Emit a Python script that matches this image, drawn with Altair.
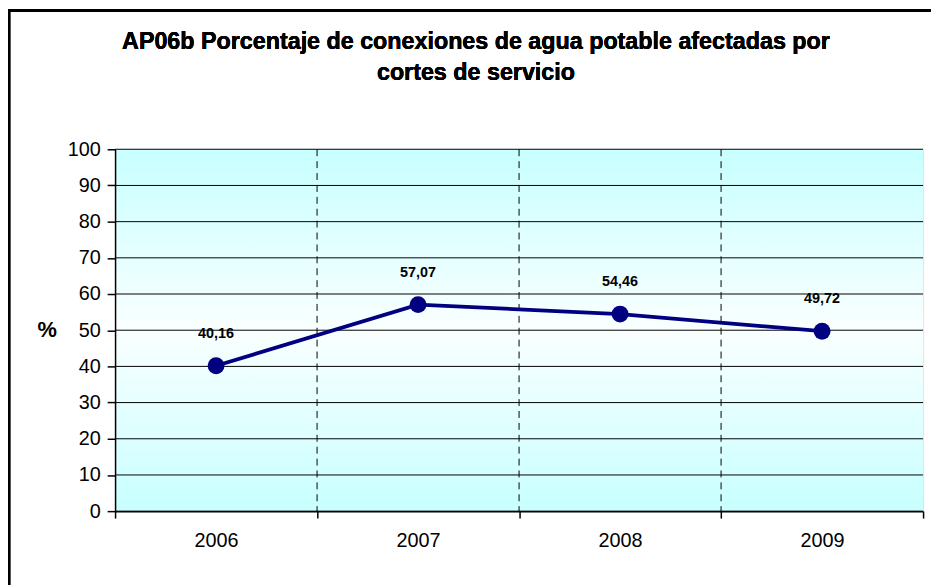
import altair as alt
import pandas as pd

years = ["2006", "2007", "2008", "2009"]
values = [40.16, 57.07, 54.46, 49.72]
labels = ["40,16", "57,07", "54,46", "49,72"]
y_ticks = [0, 10, 20, 30, 40, 50, 60, 70, 80, 90, 100]

title_line1 = "AP06b Porcentaje de conexiones de agua potable afectadas por"
title_line2 = "cortes de servicio"

W, H = 815, 365
FONT = "Liberation Sans"
NAVY = "#000080"

df = pd.DataFrame({"year": years, "value": values, "label": labels})
grid_df = pd.DataFrame({"tick": y_ticks})
xgrid_df = pd.DataFrame({"year": years[1:]})

xscale = alt.Scale(type="band", paddingInner=0, paddingOuter=0, domain=years)
yscale = alt.Scale(domain=[0, 100], nice=False, zero=True)

xaxis = alt.Axis(title=None, labelAngle=0, tickBand="extent", grid=False,
                 labelFontSize=20, labelFont=FONT, labelColor="#000000",
                 labelPadding=13, tickColor="#000000", tickSize=7, tickWidth=1.5,
                 domainColor="#000000", domainWidth=1.5, zindex=1)
yaxis = alt.Axis(values=y_ticks, title="%", grid=False,
                 titleAngle=0, titleFontSize=22, titleFont=FONT,
                 titleFontWeight="bold", titleX=-69, titleY=182,
                 titleAlign="center", titleBaseline="middle", titleColor="#000000",
                 labelFontSize=20, labelFont=FONT, labelColor="#000000",
                 labelPadding=7, tickSize=8, tickColor="#000000",
                 tickWidth=1.5, domainColor="#000000", domainWidth=1.5, zindex=1)

bg = alt.Chart(df).mark_rect(
    fill=alt.LinearGradient(gradient="linear",
                            stops=[alt.GradientStop(color="#C8FFFF", offset=0),
                                   alt.GradientStop(color="#FAFFFF", offset=0.5),
                                   alt.GradientStop(color="#C8FFFF", offset=1)],
                            x1=0, x2=0, y1=0, y2=1)
).encode(x=alt.value(0), x2=alt.value(W), y=alt.value(0), y2=alt.value(H))

frame = alt.Chart(df).mark_rect(fill=None, stroke="#000000", strokeWidth=2.5).encode(
    x=alt.value(-107), x2=alt.value(W + 60), y=alt.value(-140), y2=alt.value(H + 120))

ygrid = alt.Chart(grid_df).mark_rule().encode(
    y=alt.Y("tick:Q", scale=yscale, axis=yaxis),
    color=alt.condition("datum.tick === 60", alt.value("#7f7f7f"), alt.value("#000000")),
    strokeWidth=alt.condition("datum.tick === 60", alt.value(2), alt.value(1)),
)

xgrid = alt.Chart(xgrid_df).mark_rule(color="#000000", strokeDash=[7, 5], strokeWidth=1).encode(
    x=alt.X("year:N", bandPosition=0, scale=xscale, axis=xaxis),
)

base = alt.Chart(df).encode(
    x=alt.X("year:N", bandPosition=0.5, scale=xscale, axis=xaxis),
    y=alt.Y("value:Q", scale=yscale, axis=yaxis))
line = base.mark_line(color=NAVY, strokeWidth=3.8)
pts = base.mark_point(filled=True, color=NAVY, size=290, opacity=1)
txt = base.mark_text(dy=-32, fontSize=14.5, fontWeight="bold", font=FONT,
                     color="#000000").encode(text="label:N")

t1 = alt.Chart(df).mark_text(fontSize=23.5, fontWeight="bold", font=FONT, color="#000000",
                              align="center", baseline="alphabetic").encode(
    x=alt.value(364), y=alt.value(-101), text=alt.value(title_line1))
t2 = alt.Chart(df).mark_text(fontSize=23.5, fontWeight="bold", font=FONT, color="#000000",
                              align="center", baseline="alphabetic").encode(
    x=alt.value(364), y=alt.value(-70), text=alt.value(title_line2))

chart = alt.layer(bg, frame, ygrid, xgrid, line, pts, txt, t1, t2).properties(
    width=W, height=H,
    autosize=alt.AutoSizeParams(type="none"),
    padding={"left": 108, "top": 140, "right": 8, "bottom": 72},
).configure_view(stroke="#808080", strokeWidth=2).configure(background="#ffffff")

chart.save("out.html", embed_options={"renderer": "svg", "actions": False})
